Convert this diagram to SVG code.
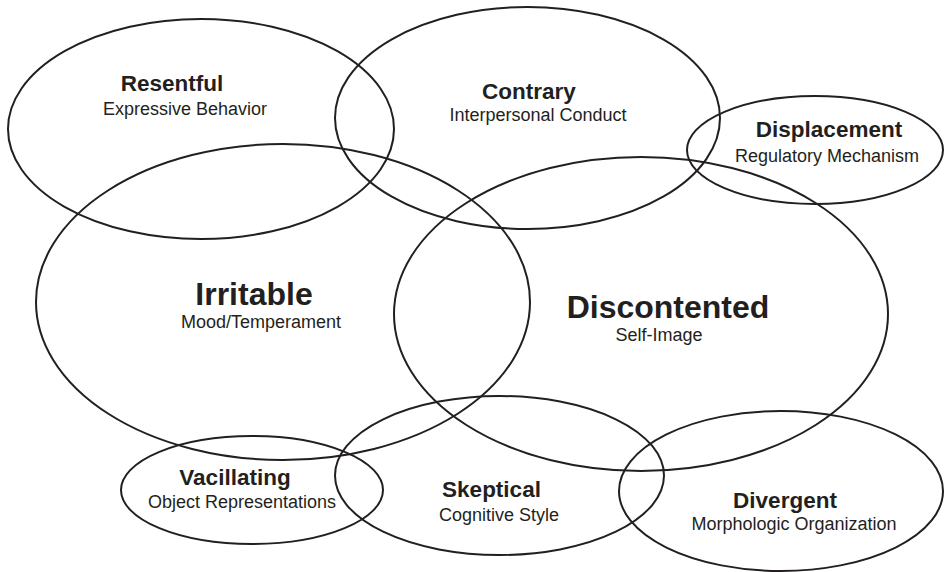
<svg xmlns="http://www.w3.org/2000/svg" width="944" height="572" viewBox="0 0 944 572">
  <style>
    .ring { fill: none; stroke: #231f20; stroke-width: 2; }
    .title { font-family: "Liberation Sans", Arial, sans-serif; font-weight: bold; font-size: 22.5px; fill: #231f20; text-anchor: middle; }
    .big { font-size: 32px; }
    .sub { font-family: "Liberation Sans", Arial, sans-serif; font-size: 18px; fill: #231f20; text-anchor: middle; }
  </style>
  <rect x="0" y="0" width="944" height="572" fill="#ffffff"/>

  <g id="resentful">
    <ellipse class="ring" cx="201" cy="129" rx="193" ry="110"/>
    <text class="title" x="172" y="91">Resentful</text>
    <text class="sub" x="185" y="115">Expressive Behavior</text>
  </g>

  <g id="contrary">
    <ellipse class="ring" cx="527.5" cy="118" rx="192.5" ry="111"/>
    <text class="title" x="529" y="99">Contrary</text>
    <text class="sub" x="538" y="121">Interpersonal Conduct</text>
  </g>

  <g id="displacement">
    <ellipse class="ring" cx="815" cy="150" rx="128" ry="54"/>
    <text class="title" x="829" y="137">Displacement</text>
    <text class="sub" x="827" y="162">Regulatory Mechanism</text>
  </g>

  <g id="irritable">
    <ellipse class="ring" cx="283" cy="302" rx="247" ry="158"/>
    <text class="title big" x="254" y="305">Irritable</text>
    <text class="sub" x="261" y="328">Mood/Temperament</text>
  </g>

  <g id="discontented">
    <ellipse class="ring" cx="641" cy="314" rx="247" ry="157"/>
    <text class="title big" x="668" y="318">Discontented</text>
    <text class="sub" x="659" y="341">Self-Image</text>
  </g>

  <g id="vacillating">
    <ellipse class="ring" cx="252" cy="490" rx="131" ry="54"/>
    <text class="title" x="235" y="485">Vacillating</text>
    <text class="sub" x="242" y="508">Object Representations</text>
  </g>

  <g id="skeptical">
    <ellipse class="ring" cx="499.5" cy="475.5" rx="164.5" ry="79.5"/>
    <text class="title" x="491.5" y="497">Skeptical</text>
    <text class="sub" x="499" y="521">Cognitive Style</text>
  </g>

  <g id="divergent">
    <ellipse class="ring" cx="781" cy="491" rx="162" ry="80"/>
    <text class="title" x="785" y="508">Divergent</text>
    <text class="sub" x="794" y="530">Morphologic Organization</text>
  </g>
</svg>
